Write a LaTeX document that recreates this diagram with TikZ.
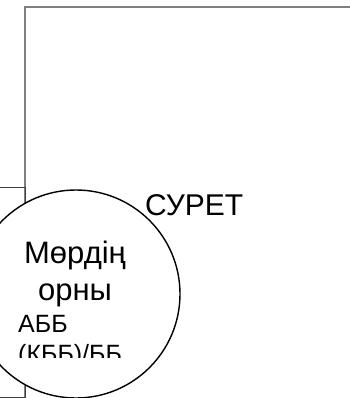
\documentclass[tikz,border=0pt]{standalone}
\usepackage{fontspec}
\setmainfont{Liberation Sans}
\usetikzlibrary{shapes}

\begin{document}
\begin{tikzpicture}[x=1pt,y=-1pt,
		bigline/.style={inner sep=0pt, text height=22pt, text depth=7pt, font=\fontsize{31}{34}\selectfont},
		smallline/.style={inner sep=0pt, text height=18pt, text depth=6pt, text width=112pt, align=left, font=\fontsize{25}{28}\selectfont},
		seal/.style={circle, draw=black, line width=1.4pt, fill=white, minimum size=208pt, inner sep=0pt}]
		\useasboundingbox (0,0) rectangle (349,398);
		
		% frames
		\draw[gray, line width=1.2pt] (25,400) -- (25,7) -- (352,7);
		\draw[darkgray, line width=0.9pt] (-2,187) -- (25,187) -- (25,397) -- (-2,397);
		
		\node[seal] (seal) at (76,294) {};
		
		\node[bigline, font=\fontsize{30}{34}\selectfont, anchor=base west] (suret) at (145,215) {СУРЕТ};
		
		\begin{scope}
		\clip (0,235) rectangle (180,357);
		\node[bigline, anchor=base] (mordin) at (75,263) {Мөрдің};
		\node[bigline] (orny) [below of=mordin, node distance=37pt] {орны};
		\node[smallline, anchor=base west] (abb) at (18,332) {АББ};
		\node[smallline] (kbb) [below of=abb, node distance=30pt] {(КББ)/ББ};
		\end{scope}
		
	\end{tikzpicture}
\end{document}
